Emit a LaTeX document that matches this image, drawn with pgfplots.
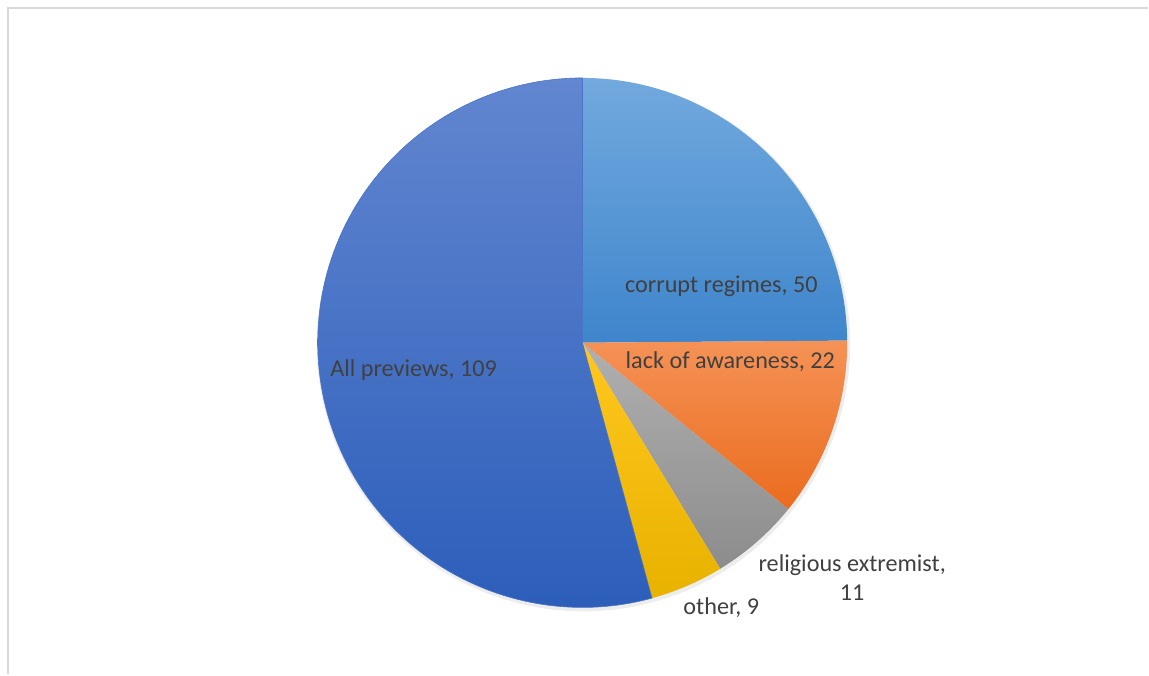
\documentclass[border=0pt]{standalone}
\usepackage{pgfplots}
\pgfplotsset{compat=1.18}
\usepackage{pgfplotstable}
\usepackage{fontspec}
\setmainfont{Carlito}

\definecolor{framegray}{RGB}{217,217,217}
\definecolor{labelgray}{RGB}{64,64,64}
\definecolor{lbTop}{RGB}{114,169,222}
\definecolor{lbBot}{RGB}{62,133,204}
\definecolor{orTop}{RGB}{245,146,86}
\definecolor{orBot}{RGB}{234,108,30}
\definecolor{grTop}{RGB}{176,176,176}
\definecolor{grBot}{RGB}{140,140,140}
\definecolor{yeTop}{RGB}{255,199,30}
\definecolor{yeBot}{RGB}{232,178,0}
\definecolor{blTop}{RGB}{98,134,208}
\definecolor{blBot}{RGB}{44,94,186}

\pgfplotstableread{
label value
corrupt 50
lack 22
religious 11
other 9
all 109
}\piedata
\pgfplotstablegetelem{0}{value}\of\piedata \let\vA\pgfplotsretval
\pgfplotstablegetelem{1}{value}\of\piedata \let\vB\pgfplotsretval
\pgfplotstablegetelem{2}{value}\of\piedata \let\vC\pgfplotsretval
\pgfplotstablegetelem{3}{value}\of\piedata \let\vD\pgfplotsretval
\pgfplotstablegetelem{4}{value}\of\piedata \let\vE\pgfplotsretval
\pgfmathsetmacro{\tot}{\vA+\vB+\vC+\vD+\vE}
\pgfmathsetmacro{\aA}{360*(\vA/\tot)}
\pgfmathsetmacro{\aB}{\aA+360*(\vB/\tot)}
\pgfmathsetmacro{\aC}{\aB+360*(\vC/\tot)}
\pgfmathsetmacro{\aD}{\aC+360*(\vD/\tot)}

\begin{document}%
\begin{tikzpicture}
\begin{axis}[
  hide axis, scale only axis,
  width=574.5pt, height=337.5pt,
  xmin=0, xmax=1149, ymin=0, ymax=675,
  y dir=reverse, clip=false,
]
\path (axis cs:0,0) rectangle (axis cs:1149,675);
\draw[framegray, line width=1.1pt] (axis cs:8,675) -- (axis cs:8,8) -- (axis cs:1149,8);
% soft shadow
\addplot[draw=none, fill=black, fill opacity=0.07, domain=0:360, samples=121]
  ({584+267*sin(x)},{345-267*cos(x)}) -- cycle;
\addplot[draw=none, top color=lbTop, bottom color=lbBot, domain=0:\aA, samples=60]
  ({583+265*sin(x)},{343-265*cos(x)}) -- (axis cs:583,343) -- cycle;
\addplot[draw=none, top color=orTop, bottom color=orBot, domain=\aA:\aB, samples=40]
  ({583+265*sin(x)},{343-265*cos(x)}) -- (axis cs:583,343) -- cycle;
\addplot[draw=none, top color=grTop, bottom color=grBot, domain=\aB:\aC, samples=30]
  ({583+265*sin(x)},{343-265*cos(x)}) -- (axis cs:583,343) -- cycle;
\addplot[draw=none, top color=yeTop, bottom color=yeBot, domain=\aC:\aD, samples=30]
  ({583+265*sin(x)},{343-265*cos(x)}) -- (axis cs:583,343) -- cycle;
\addplot[draw=blTop!55!blBot, line width=0.3pt, top color=blTop, bottom color=blBot, domain=\aD:360, samples=121]
  ({583+265*sin(x)},{343-265*cos(x)}) -- (axis cs:583,343) -- cycle;
\begin{scope}[every node/.style={text=labelgray, font=\fontsize{12.1}{14.6}\selectfont, inner sep=0pt}]
\node at (axis cs:722,287) {corrupt regimes, 50};
\node at (axis cs:731,362) {lack of awareness, 22};
\node at (axis cs:414,370) {All previews, 109};
\node[align=center] at (axis cs:853,578) {religious extremist,\\11};
\node at (axis cs:722,608) {other, 9};
\end{scope}
\end{axis}
\end{tikzpicture}%
\end{document}
